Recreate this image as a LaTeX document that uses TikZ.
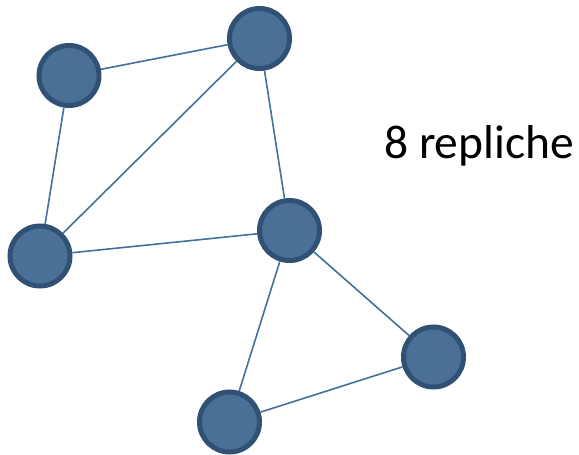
\documentclass[tikz,border=0pt]{standalone}
\usepackage{fontspec}
\setmainfont{Carlito}
\definecolor{nodefill}{RGB}{74,112,150}
\definecolor{nodeborder}{RGB}{48,81,115}
\definecolor{linkcol}{RGB}{65,113,156}
\tikzset{replica/.style={circle, fill=nodefill, draw=nodeborder, line width=5pt,
		minimum size=60pt, inner sep=0pt},
	link/.style={draw=linkcol, line width=1.6pt}}
\begin{document}
\begin{tikzpicture}[x=1pt, y=-1pt]
	\useasboundingbox (0,0) rectangle (579,455);
	
			% nodes
			\node[replica] (A) at (69, 75.5) {};
			\node[replica] (B) at (259.5, 38.5) {};
			\node[replica] (C) at (40, 256) {};
			\node[replica] (D) at (289.5, 230.5) {};
			\node[replica] (E) at (433.5, 357) {};
			\node[replica] (F) at (229.5, 422) {};
			
			% links
			\draw[link] (A) -- (B);
			\draw[link] (A) -- (C);
			\draw[link] (B) -- (C);
			\draw[link] (B) -- (D);
			\draw[link] (C) -- (D);
			\draw[link] (D) -- (E);
			\draw[link] (D) -- (F);
			\draw[link] (E) -- (F);
			
			\node[anchor=base west, inner sep=0pt, font=\fontsize{47.5}{57}\selectfont] (T) at (384, 158) {8 repliche};
		\end{tikzpicture}
\end{document}
